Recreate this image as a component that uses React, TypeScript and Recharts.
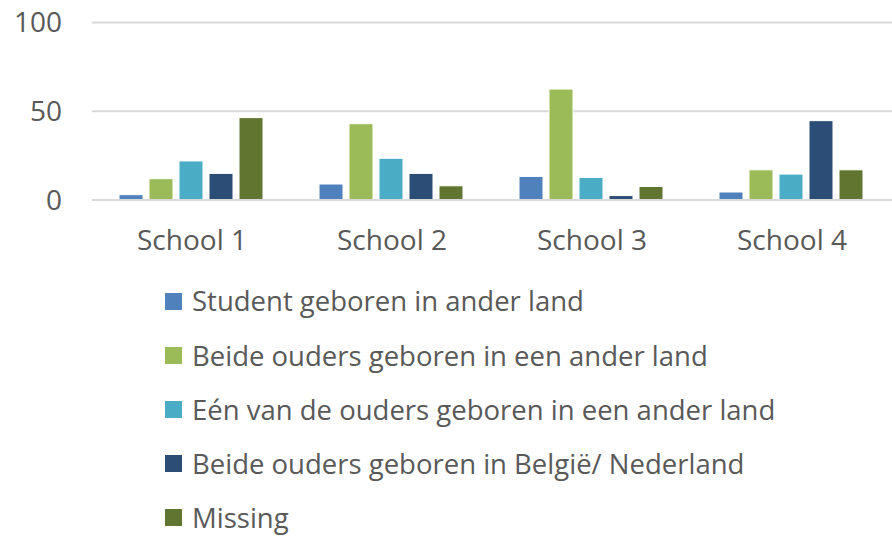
import { BarChart, Bar, XAxis, YAxis, CartesianGrid, Legend } from 'recharts';

const schools = ['School 1', 'School 2', 'School 3', 'School 4'];
const seriesNames = [
  'Student geboren in ander land',
  'Beide ouders geboren in een ander land',
  'Eén van de ouders geboren in een ander land',
  'Beide ouders geboren in België/ Nederland',
  'Missing',
];
const seriesColors = ['#4F81BD', '#9BBB59', '#4BACC6', '#2C4D75', '#5F7530'];
const studentAbroad = [3, 9, 13.3, 4.5];
const bothParentsAbroad = [12, 43, 62.5, 17];
const oneParentAbroad = [22, 23.5, 12.7, 14.6];
const bothParentsLocal = [15, 15, 2.5, 44.7];
const missing = [46.4, 8, 7.6, 17];
const yTicks = [0, 50, 100];

const seriesValues = [studentAbroad, bothParentsAbroad, oneParentAbroad, bothParentsLocal, missing];

const data = schools.map((school, i) => {
  const row: Record<string, string | number> = { school };
  seriesNames.forEach((name, s) => {
    row[name] = seriesValues[s][i];
  });
  return row;
});

const FONT = '"Open Sans", sans-serif';
const TEXT = '#595959';

// keep the series order (recharts sorts legend items by name otherwise)
function renderLegend() {
  return (
    <div style={{ fontFamily: FONT, fontSize: 27.5, color: TEXT, lineHeight: 1 }}>
      {seriesNames.map((name, s) => (
        <div key={name} style={{ display: 'flex', alignItems: 'center', height: 54.2 }}>
          <span style={{ width: 17, height: 17, background: seriesColors[s], marginRight: 10, display: 'inline-block' }} />
          <span style={{ whiteSpace: 'nowrap' }}>{name}</span>
        </div>
      ))}
    </div>
  );
}

export default function App() {
  return (
    <div style={{ position: 'absolute', left: 0, top: 0, width: 892, height: 536, background: '#fff' }}>
      <BarChart
        width={892}
        height={536}
        data={data}
        margin={{ top: 22.5, right: 0, bottom: 306, left: 0 }}
        barCategoryGap={27}
        barGap={6}
      >
        <CartesianGrid vertical={false} stroke="#d9d9d9" strokeWidth={2} />
        <XAxis
          dataKey="school"
          axisLine={{ stroke: '#d9d9d9', strokeWidth: 2 }}
          tickLine={false}
          tickSize={0}
          tickMargin={30}
          height={30}
          tick={{ fontSize: 28, fill: TEXT, fontFamily: FONT }}
        />
        <YAxis
          domain={[0, 100]}
          ticks={yTicks}
          axisLine={false}
          tickLine={false}
          tickSize={0}
          tickMargin={30}
          width={92}
          tick={{ fontSize: 28, fill: TEXT, fontFamily: FONT }}
        />
        <Legend
          layout="vertical"
          verticalAlign="middle"
          align="center"
          content={renderLegend}
          wrapperStyle={{ top: 274, left: 165, width: 720 }}
        />
        {seriesNames.map((name, s) => (
          <Bar
            key={name}
            dataKey={name}
            fill={seriesColors[s]}
            stroke="#ffffff"
            strokeWidth={1}
            isAnimationActive={false}
          />
        ))}
      </BarChart>
    </div>
  );
}
